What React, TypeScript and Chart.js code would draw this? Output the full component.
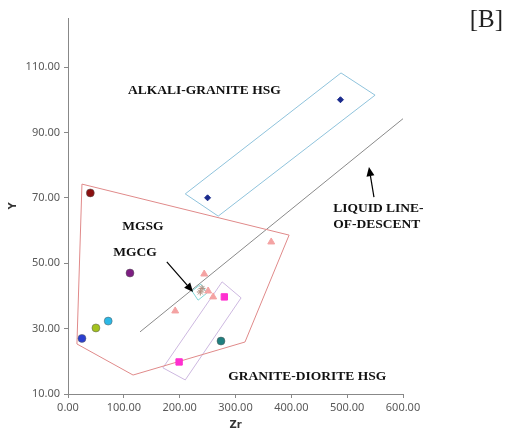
import React, { useEffect, useRef } from "react";
import { Chart, registerables } from "chart.js";

Chart.register(...registerables);

// Scatter samples
const circleX = [40, 111, 25, 50, 72, 274];
const circleY = [71.5, 47, 27, 30.2, 32.3, 26.2];
const circleColors = ["#8b1010", "#7d1e82", "#2a3fd0", "#a3c21e", "#2cb8e6", "#1f7f7f"];
const diamondX = [250, 488];
const diamondY = [70, 100];
const squareX = [199, 280];
const squareY = [19.8, 39.7];
const triangleX = [192, 244, 251, 260, 364];
const triangleY = [35.4, 46.7, 41.5, 39.7, 56.5];
const starX = [237, 240];
const starY = [41.2, 42.3];

// Field outlines
const mgsgPolyX = [25, 396, 317, 116.5, 16, 25];
const mgsgPolyY = [74.2, 58.6, 25.9, 15.8, 25.3, 74.2];
const alkaliPolyX = [210, 269, 550, 489, 210];
const alkaliPolyY = [71.2, 64.4, 101.4, 108.2, 71.2];
const gdPolyX = [276, 310, 210, 170, 276];
const gdPolyY = [44.3, 39.4, 14.3, 18, 44.3];
const mgcgPolyX = [238, 249, 233, 222, 238];
const mgcgPolyY = [43.6, 40.9, 38.7, 41.5, 43.6];
const lldX = [129, 600];
const lldY = [29, 94.2];

// Annotations (data coordinates)
const labelTexts = ["ALKALI-GRANITE HSG", "LIQUID LINE-", "OF-DESCENT", "MGSG", "MGCG", "GRANITE-DIORITE HSG"];
const labelX = [107.5, 475, 475, 97, 81, 287];
const labelY = [102.9, 66.6, 61.7, 61.1, 53.4, 15.5];
const arrowFromX = [177, 548];
const arrowFromY = [50.4, 70.2];
const arrowToX = [224, 539];
const arrowToY = [41.2, 79.4];

// Axes
const xTicks = [0, 100, 200, 300, 400, 500, 600];
const yTicks = [10, 30, 50, 70, 90, 110];
const xMin = 0, xMax = 600;
const yMin = 10, yMax = 125;

const pts = (xs: number[], ys: number[]) => xs.map((x, i) => ({ x, y: ys[i] }));

const annotationPlugin = {
  id: "annot",
  afterDatasetsDraw(chart: any) {
    const ctx = chart.ctx;
    const xs = chart.scales.x;
    const ys = chart.scales.y;
    ctx.save();
    ctx.fillStyle = "#111";
    ctx.font = "bold 13.5px 'Liberation Serif'";
    ctx.textBaseline = "middle";
    ctx.textAlign = "left";
    labelTexts.forEach((t, i) => {
      ctx.fillText(t, xs.getPixelForValue(labelX[i]), ys.getPixelForValue(labelY[i]));
    });
    // arrows
    ctx.strokeStyle = "#000";
    ctx.fillStyle = "#000";
    ctx.lineWidth = 1.2;
    arrowFromX.forEach((_, i) => {
      const x1 = xs.getPixelForValue(arrowFromX[i]);
      const y1 = ys.getPixelForValue(arrowFromY[i]);
      const x2 = xs.getPixelForValue(arrowToX[i]);
      const y2 = ys.getPixelForValue(arrowToY[i]);
      const a = Math.atan2(y2 - y1, x2 - x1);
      const hl = 9, hw = 4;
      const bx = x2 - hl * Math.cos(a);
      const by = y2 - hl * Math.sin(a);
      ctx.beginPath();
      ctx.moveTo(x1, y1);
      ctx.lineTo(bx, by);
      ctx.stroke();
      ctx.beginPath();
      ctx.moveTo(x2, y2);
      ctx.lineTo(bx + hw * Math.sin(a), by - hw * Math.cos(a));
      ctx.lineTo(bx - hw * Math.sin(a), by + hw * Math.cos(a));
      ctx.closePath();
      ctx.fill();
    });
    // panel tag
    ctx.fillStyle = "#222";
    ctx.font = "25px 'Liberation Serif'";
    ctx.textAlign = "right";
    ctx.fillText("[B]", 503, 20);
    ctx.restore();
  },
};

export default function App() {
  const ref = useRef<HTMLCanvasElement>(null);
  useEffect(() => {
    if (!ref.current) return;
    const lineDs = (xs: number[], ys: number[], color: string, order = 5) => ({
      data: pts(xs, ys),
      showLine: true,
      borderColor: color,
      borderWidth: 1,
      pointRadius: 0,
      fill: false,
      tension: 0,
      order,
    });
    const chart = new Chart(ref.current, {
      type: "scatter",
      data: {
        datasets: [
          lineDs(mgsgPolyX, mgsgPolyY, "#e08a8a"),
          lineDs(alkaliPolyX, alkaliPolyY, "#8fc3dc"),
          lineDs(gdPolyX, gdPolyY, "#cdb8e0"),
          lineDs(mgcgPolyX, mgcgPolyY, "#7fd6d6"),
          lineDs(lldX, lldY, "#8a8a8a"),
          {
            data: pts(circleX, circleY),
            pointStyle: "circle",
            pointRadius: 4,
            backgroundColor: circleColors,
            borderColor: "rgba(90,90,90,0.5)",
            borderWidth: 1,
            order: 1,
          },
          {
            data: pts(diamondX, diamondY),
            pointStyle: "rectRot",
            pointRadius: 3,
            backgroundColor: "#1a2a8c",
            borderColor: "#1a2a8c",
            borderWidth: 1,
            order: 1,
          },
          {
            data: pts(squareX, squareY),
            pointStyle: "rect",
            pointRadius: 4.5,
            backgroundColor: "#ff2fd0",
            borderColor: "#ff2fd0",
            borderWidth: 1,
            order: 1,
          },
          {
            data: pts(triangleX, triangleY),
            pointStyle: "triangle",
            pointRadius: 4,
            backgroundColor: "#f4a3a3",
            borderColor: "#f4a3a3",
            borderWidth: 1,
            order: 1,
          },
          {
            data: pts(starX, starY),
            pointStyle: "star",
            pointRadius: 3.5,
            backgroundColor: "#b8a090",
            borderColor: "#b09080",
            borderWidth: 1,
            order: 1,
          },
        ],
      },
      options: {
        responsive: false,
        animation: false,
        devicePixelRatio: 1,
        layout: { padding: { left: 0, top: 18, right: 112, bottom: 0 } },
        plugins: { legend: { display: false }, tooltip: { enabled: false } },
        scales: {
          x: {
            type: "linear",
            min: xMin,
            max: xMax,
            afterFit: (s: any) => { s.height = 44; },
            afterBuildTicks: (s: any) => { s.ticks = xTicks.map((v) => ({ value: v })); },
            ticks: {
              callback: (v: any) => Number(v).toFixed(2),
              font: { family: "'Noto Sans'", size: 11 },
              color: "#595959",
              padding: 3,
              maxRotation: 0,
              autoSkip: false,
            },
            grid: { drawOnChartArea: false, drawTicks: true, tickLength: 4, color: "#888" },
            border: { color: "#888", width: 1 },
            title: { display: true, text: "Zr", font: { family: "'DejaVu Sans'", size: 10, weight: "bold" }, color: "#333", padding: { top: 0, bottom: 7 } },
          },
          y: {
            type: "linear",
            min: yMin,
            max: yMax,
            afterFit: (s: any) => { s.width = 68; },
            afterBuildTicks: (s: any) => { s.ticks = yTicks.map((v) => ({ value: v })); },
            ticks: {
              callback: (v: any) => Number(v).toFixed(2),
              font: { family: "'Noto Sans'", size: 11 },
              color: "#595959",
              padding: 4,
              autoSkip: false,
            },
            grid: { drawOnChartArea: false, drawTicks: true, tickLength: 4, color: "#888" },
            border: { color: "#888", width: 1 },
            title: { display: true, text: "Y", font: { family: "'DejaVu Sans'", size: 10, weight: "bold" }, color: "#333", padding: { top: 7, bottom: 0 } },
          },
        },
      },
      plugins: [annotationPlugin],
    } as any);
    return () => chart.destroy();
  }, []);
  return (
    <div style={{ position: "absolute", left: 0, top: 0, width: 515, height: 438, background: "#fff" }}>
      <canvas ref={ref} width={515} height={438} style={{ display: "block" }} />
    </div>
  );
}
